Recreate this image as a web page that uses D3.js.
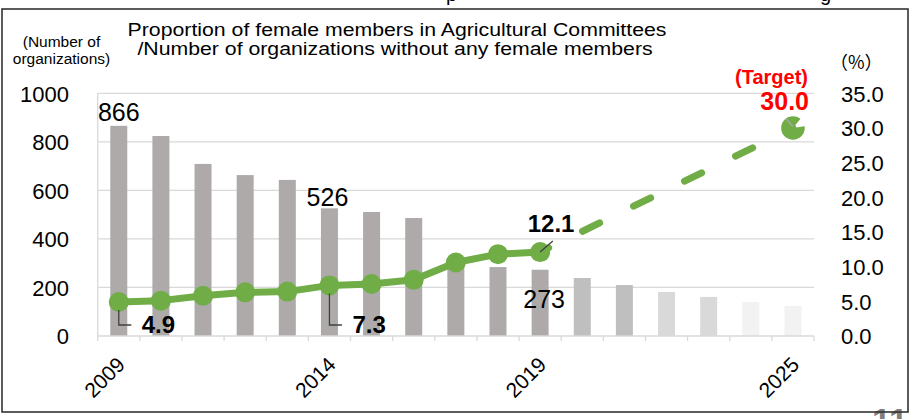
<!DOCTYPE html>
<html>
<head>
<meta charset="utf-8">
<script src="https://cdn.jsdelivr.net/npm/d3@7"></script>
<style>
  html, body { margin: 0; padding: 0; background: #fff; }
  svg { display: block; font-family: Arial, "Liberation Sans", sans-serif; }
</style>
</head>
<body>
<svg id="chart" width="912" height="419"></svg>
<script>
// ---- data ----
const years = ["2009","2010","2011","2012","2013","2014","2015","2016","2017","2018","2019","2020","2021","2022","2023","2024","2025"];
const orgsWithoutWomen = [866, 824, 709, 663, 643, 526, 511, 486, 310, 284, 273, 239, 210, 181, 161, 140, 124];
const actualYears = ["2009","2010","2011","2012","2013","2014","2015","2016","2017","2018","2019"];
const femaleRatio = [4.9, 5.1, 5.8, 6.3, 6.4, 7.3, 7.5, 8.1, 10.6, 11.8, 12.1];
const targetYears = ["2019","2025"];
const targetRatio = [12.1, 30.0];
const leftTicks = [0, 200, 400, 600, 800, 1000];
const rightTicks = [0, 5, 10, 15, 20, 25, 30, 35];
const shownYearLabels = ["2009","2014","2019","2025"];
const barLabelYears = ["2009","2014","2019"];

const svg = d3.select("#chart");
const plot = { left: 97.7, right: 814, top: 93.3, bottom: 336 };

const xb = d3.scaleBand().domain(years).range([plot.left, plot.right]);
const cx = y => xb(y) + xb.bandwidth() / 2;
const yL = d3.scaleLinear().domain([0, 1000]).range([plot.bottom, plot.top]);
const yR = d3.scaleLinear().domain([0, 35]).range([plot.bottom, plot.top]);

function barColor(yr) {
  const v = +yr;
  if (v <= 2019) return "#aeaaaa";
  if (v <= 2021) return "#bfbfbf";
  if (v <= 2023) return "#d9d9d9";
  return "#f2f2f2";
}

// slide fragments above / below
svg.append("text").attr("x", 446).attr("y", 1).attr("font-size", 20).attr("fill", "#000").text("p");
svg.append("text").attr("x", 820).attr("y", 1).attr("font-size", 20).attr("fill", "#000").text("g");
svg.append("text").attr("x", 872).attr("y", 432).attr("font-size", 34).attr("font-weight", "bold").attr("fill", "#7f7f7f").text("11");

// frame
svg.append("rect").attr("x", 2).attr("y", 9).attr("width", 906).attr("height", 403)
  .attr("fill", "none").attr("stroke", "#333").attr("stroke-width", 1.6);

// gridlines
svg.append("g").selectAll("line").data(leftTicks.filter(d => d > 0)).join("line")
  .attr("x1", plot.left).attr("x2", plot.right)
  .attr("y1", d => yL(d)).attr("y2", d => yL(d))
  .attr("stroke", "#d9d9d9").attr("stroke-width", 1.3);

// left axis line
svg.append("line").attr("x1", plot.left).attr("x2", plot.left).attr("y1", plot.top).attr("y2", plot.bottom)
  .attr("stroke", "#d9d9d9").attr("stroke-width", 1.3);

// bars
svg.append("g").selectAll("rect").data(years).join("rect")
  .attr("x", (d) => cx(d) - 8.5)
  .attr("width", 17)
  .attr("y", (d, i) => yL(orgsWithoutWomen[i]))
  .attr("height", (d, i) => yL(0) - yL(orgsWithoutWomen[i]))
  .attr("fill", d => barColor(d));

// x axis with ticks at band edges
const gx = svg.append("g").attr("transform", `translate(0,${plot.bottom})`);
gx.append("line").attr("x1", plot.left).attr("x2", plot.right).attr("y1", 0).attr("y2", 0)
  .attr("stroke", "#d9d9d9").attr("stroke-width", 1.3);
gx.selectAll(".bt").data(years.concat(["__end"])).join("line")
  .attr("x1", d => d === "__end" ? plot.right : xb(d))
  .attr("x2", d => d === "__end" ? plot.right : xb(d))
  .attr("y1", 0).attr("y2", 5).attr("stroke", "#d9d9d9").attr("stroke-width", 1.3);

// x labels
svg.append("g").selectAll("text").data(shownYearLabels).join("text")
  .attr("transform", d => `translate(${cx(d) + 7.5},${plot.bottom + 30}) rotate(-45)`)
  .attr("text-anchor", "end").attr("font-size", 21).attr("fill", "#000").text(d => d);

// left axis labels
const gl = svg.append("g").attr("transform", `translate(69,0)`)
  .call(d3.axisLeft(yL).tickValues(leftTicks).tickSize(0).tickPadding(0).tickFormat(d3.format("d")));
gl.select(".domain").remove();
gl.selectAll("text").attr("font-size", 22).attr("font-family", "Arial, 'Liberation Sans', sans-serif").attr("fill", "#000").attr("dy", "0.36em");

// right axis labels
const gr = svg.append("g").attr("transform", `translate(841,0)`)
  .call(d3.axisRight(yR).tickValues(rightTicks).tickSize(0).tickPadding(0).tickFormat(d3.format(".1f")));
gr.select(".domain").remove();
gr.selectAll("text").attr("font-size", 22).attr("font-family", "Arial, 'Liberation Sans', sans-serif").attr("fill", "#000").attr("dy", "0.36em");

// axis unit labels
svg.append("text").attr("x", 61.5).attr("y", 47).attr("text-anchor", "middle").attr("font-size", 15.5).text("(Number of");
svg.append("text").attr("x", 61.5).attr("y", 64).attr("text-anchor", "middle").attr("font-size", 15.5).text("organizations)");
svg.append("text").attr("x", 830).attr("y", 69).attr("font-size", 18).attr("font-family", "'Noto Sans CJK JP', sans-serif").text("（%）");

// title
svg.append("text").attr("transform", "translate(397,35.5) scale(1.15,1)").attr("text-anchor", "middle").attr("font-size", 18.5).text("Proportion of female members in Agricultural Committees");
svg.append("text").attr("transform", "translate(395,54.5) scale(1.15,1)").attr("text-anchor", "middle").attr("font-size", 18.5).text("/Number of organizations without any female members");

// target dashed line
const line = d3.line().x(d => cx(d[0])).y(d => yR(d[1]));
const tPts = targetYears.map((d, i) => [d, targetRatio[i]]);
svg.append("path").attr("d", line(tPts)).attr("fill", "none").attr("stroke", "#70ad47")
  .attr("stroke-width", 7).attr("stroke-linecap", "round")
  .attr("stroke-dasharray", "19 37.8").attr("stroke-dashoffset", 9.5);

// actual solid line
const aPts = actualYears.map((d, i) => [d, femaleRatio[i]]);
svg.append("path").attr("d", line(aPts)).attr("fill", "none").attr("stroke", "#70ad47")
  .attr("stroke-width", 7).attr("stroke-linejoin", "round");
svg.append("g").selectAll("circle").data(aPts).join("circle")
  .attr("cx", d => cx(d[0])).attr("cy", d => yR(d[1])).attr("r", 10).attr("fill", "#70ad47");

// target marker
const tEnd = tPts[tPts.length - 1];
const tx = cx(tEnd[0]), ty = yR(tEnd[1]);
svg.append("circle").attr("cx", tx).attr("cy", ty).attr("r", 11.8).attr("fill", "#70ad47");
svg.append("path").attr("transform", `translate(${tx},${ty})`)
  .attr("d", d3.arc()({ innerRadius: 3.5, outerRadius: 13, startAngle: Math.PI * 0.22, endAngle: Math.PI * 0.45 }))
  .attr("fill", "#fff");
svg.append("line").attr("x1", tx - 6.5).attr("y1", ty - 9).attr("x2", tx).attr("y2", ty - 1.5)
  .attr("stroke", "#a6a6a6").attr("stroke-width", 1.5);
svg.append("text").attr("x", 808).attr("y", 84).attr("text-anchor", "end").attr("font-size", 20)
  .attr("font-weight", "bold").attr("fill", "#ff0000").text("(Target)");
svg.append("text").attr("x", 809).attr("y", 110).attr("text-anchor", "end").attr("font-size", 25)
  .attr("font-weight", "bold").attr("fill", "#ff0000").text(d3.format(".1f")(tEnd[1]));

// bar value labels
const barLabelOffsets = { "2009": [0, 120.7], "2014": [-2, 206], "2019": [4, 308] };
svg.append("g").selectAll("text").data(barLabelYears).join("text")
  .attr("x", d => cx(d) + barLabelOffsets[d][0])
  .attr("y", d => barLabelOffsets[d][1])
  .attr("text-anchor", "middle").attr("font-size", 25).attr("fill", "#000")
  .text(d => orgsWithoutWomen[years.indexOf(d)]);

// ratio labels with leader lines
const ratioOf = yr => femaleRatio[actualYears.indexOf(yr)];
["2009", "2014"].forEach(yr => {
  const px = cx(yr), py = yR(ratioOf(yr));
  svg.append("path").attr("d", `M${px},${py + 8}V${plot.bottom - 11}H${px + 12.5}`)
    .attr("fill", "none").attr("stroke", "#404040").attr("stroke-width", 1.3);
  svg.append("text").attr("x", px + 23).attr("y", 333).attr("font-size", 24).attr("font-weight", "bold")
    .attr("fill", "#000").text(d3.format(".1f")(ratioOf(yr)));
});
{
  const yr = "2019", px = cx(yr), py = yR(ratioOf(yr));
  svg.append("line").attr("x1", px).attr("y1", py).attr("x2", px + 12.7).attr("y2", py - 11)
    .attr("stroke", "#404040").attr("stroke-width", 1.3);
  svg.append("text").attr("x", px + 11).attr("y", 231.7).attr("text-anchor", "middle").attr("font-size", 24)
    .attr("font-weight", "bold").attr("fill", "#000").text(d3.format(".1f")(ratioOf(yr)));
}
</script>
</body>
</html>
